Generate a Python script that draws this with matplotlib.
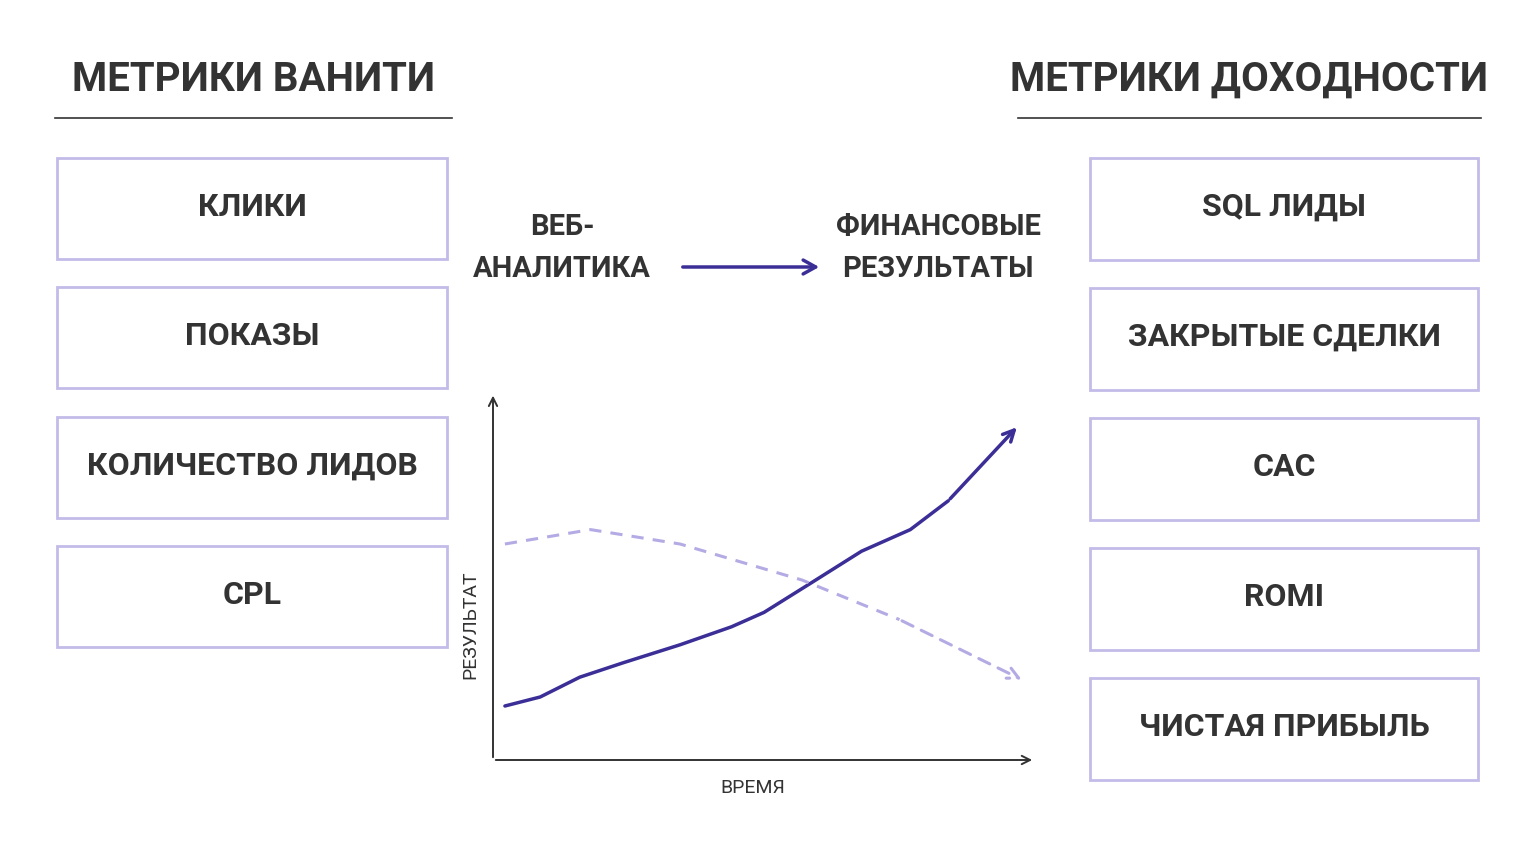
import matplotlib
matplotlib.use("Agg")
import matplotlib.pyplot as plt
from matplotlib.patches import Rectangle

plt.rcParams['font.family'] = ['Roboto', 'DejaVu Sans']

left_title = "МЕТРИКИ ВАНИТИ"
right_title = "МЕТРИКИ ДОХОДНОСТИ"
left_items = ["КЛИКИ", "ПОКАЗЫ", "КОЛИЧЕСТВО ЛИДОВ", "CPL"]
right_items = ["SQL ЛИДЫ", "ЗАКРЫТЫЕ СДЕЛКИ", "CAC", "ROMI", "ЧИСТАЯ ПРИБЫЛЬ"]
flow_from = "ВЕБ-\nАНАЛИТИКА"
flow_to = "ФИНАНСОВЫЕ\nРЕЗУЛЬТАТЫ"
x_label = "ВРЕМЯ"
y_label = "РЕЗУЛЬТАТ"
solid_t = [0.22, 0.87, 1.6, 2.4, 3.45, 4.4, 5.0, 5.85, 6.8, 7.7, 8.4, 9.7]
solid_v = [1.5, 1.75, 2.3, 2.7, 3.2, 3.7, 4.1, 4.9, 5.8, 6.4, 7.2, 9.3]
dash_t = [0.22, 1.8, 3.45, 5.7, 7.5, 9.8]
dash_v = [6.0, 6.4, 6.0, 5.0, 3.9, 2.2]

PURPLE = "#3b2e96"
LAV = "#c3bbe8"
DLAV = "#b5abe4"
TXT = "#333333"

fig = plt.figure(figsize=(15.36, 8.64), dpi=100)
fig.patch.set_facecolor("white")
bg = fig.add_axes([0, 0, 1, 1])
bg.set_xlim(0, 1536); bg.set_ylim(864, 0); bg.axis("off")

bg.text(253, 80, left_title, ha="center", va="center", fontsize=29, fontweight="bold", color=TXT)
bg.text(1249, 80, right_title, ha="center", va="center", fontsize=29, fontweight="bold", color=TXT)
bg.plot([55, 452], [118, 118], color=TXT, lw=1.2)
bg.plot([1018, 1481], [118, 118], color=TXT, lw=1.2)

for i, s in enumerate(left_items):
    y0 = 158 + i * 129.3
    bg.add_patch(Rectangle((57, y0), 390, 101, fill=False, ec=LAV, lw=2))
    bg.text(252, y0 + 49, s, ha="center", va="center", fontsize=23, fontweight="bold", color=TXT)
for i, s in enumerate(right_items):
    y0 = 158 + i * 130
    bg.add_patch(Rectangle((1090, y0), 388, 102, fill=False, ec=LAV, lw=2))
    bg.text(1284, y0 + 49, s, ha="center", va="center", fontsize=23, fontweight="bold", color=TXT)

bg.text(562, 248, flow_from, ha="center", va="center", fontsize=21, fontweight="bold",
        color=TXT, linespacing=1.6)
bg.text(938, 248, flow_to, ha="center", va="center", fontsize=21, fontweight="bold",
        color=TXT, linespacing=1.6)
bg.annotate("", xy=(822, 267), xytext=(680, 267),
            arrowprops=dict(arrowstyle="->,head_length=0.9,head_width=0.5", color=PURPLE, lw=2.5))

# chart
ax = fig.add_axes([493/1536, 1-760/864, 542/1536, 360/864])
ax.set_xlim(0, 10); ax.set_ylim(0, 10)
ax.axis("off")
ax.annotate("", xy=(0, 10.2), xytext=(0, 0), annotation_clip=False,
            arrowprops=dict(arrowstyle="->,head_length=0.6,head_width=0.3", color=TXT, lw=1.4))
ax.annotate("", xy=(10.0, 0), xytext=(0, 0), annotation_clip=False,
            arrowprops=dict(arrowstyle="->,head_length=0.6,head_width=0.3", color=TXT, lw=1.4))
ax.plot(solid_t[:-1], solid_v[:-1], color=PURPLE, lw=2.5, solid_capstyle="round")
ax.annotate("", xy=(solid_t[-1], solid_v[-1]), xytext=(solid_t[-2], solid_v[-2]),
            arrowprops=dict(arrowstyle="->,head_length=0.8,head_width=0.4", color=PURPLE, lw=2.5))
ax.plot(dash_t[:-1], dash_v[:-1], color=DLAV, lw=2.2, ls=(0, (4, 3)))
ax.annotate("", xy=(dash_t[-1], dash_v[-1]), xytext=(dash_t[-2], dash_v[-2]),
            arrowprops=dict(arrowstyle="->,head_length=0.8,head_width=0.4", color=DLAV, lw=2.2,
                            linestyle=(0, (4, 3))))
bg.text(753, 788, x_label, ha="center", va="center", fontsize=14, color=TXT)
bg.text(470, 625, y_label, ha="center", va="center", fontsize=14, color=TXT, rotation=90)

fig.savefig("out.png", dpi=100, facecolor="white")
